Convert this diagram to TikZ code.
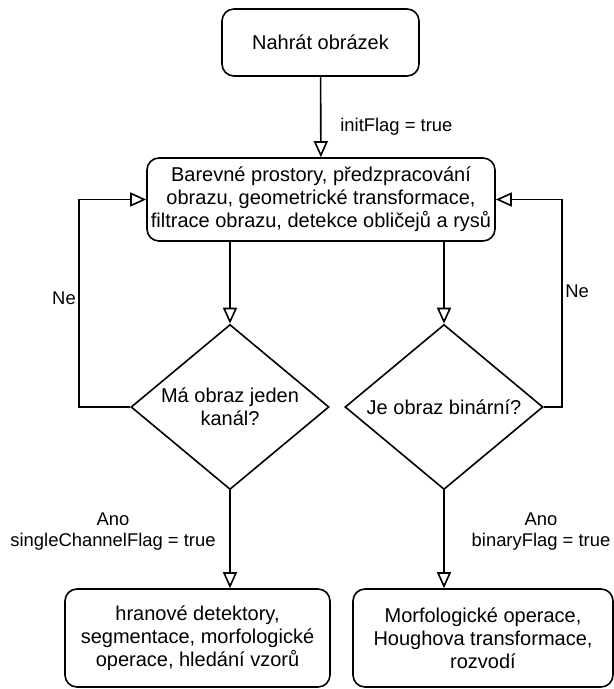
\documentclass[tikz,border=0pt]{standalone}
\usepackage{fontspec}
\setmainfont{Liberation Sans}
\usetikzlibrary{shapes.geometric, arrows.meta, positioning}

\begin{document}
\begin{tikzpicture}[x=0.5pt, y=-0.5pt,
    box/.style={draw, rounded corners=6pt, align=center, inner sep=0pt,
                font=\fontsize{10}{11.6}\selectfont, line width=0.8pt},
    decision/.style={draw, diamond, aspect=1.2, inner sep=0pt, align=center,
                minimum width=99pt, minimum height=82.5pt,
                font=\fontsize{10}{11.6}\selectfont, line width=0.8pt},
    arr/.style={-{Triangle[open, length=8pt, width=7pt]}, line width=0.8pt},
    lbl/.style={inner sep=0pt, align=center, font=\fontsize{9.2}{10.5}\selectfont}]
    \useasboundingbox (0,0) rectangle (614,689);
    % nodes
    \node[box, minimum width=98.5pt, minimum height=33.5pt] (load) at (320.5,42.5) {Nahrát obrázek};
    \node[box, minimum width=174pt, minimum height=41.5pt] (proc) at (321,199.5)
        {Barevné prostory, předzpracování\\obrazu, geometrické transformace,\\filtrace obrazu, detekce obličejů a rysů};
    \node[decision] (chan) at (230,407) {Má obraz jeden\\kanál?};
    \node[decision] (bin) at (444,407) {Je obraz binární?};
    \node[box, minimum width=132.5pt, minimum height=49pt] (edges) at (197.5,638)
        {hranové detektory,\\segmentace, morfologické\\operace, hledání vzorů};
    \node[box, minimum width=130pt, minimum height=49pt] (morph) at (483,638)
        {Morfologické operace,\\Houghova transformace,\\rozvodí};
    % labels
    \node[lbl, anchor=west] (initlbl) at (340,127) {initFlag = true};
    \node[lbl] (nolft) at (64,298) {Ne};
    \node[lbl] (norgt) at (577,291) {Ne};
    \node[lbl] (yeslft) at (113,532) {Ano\\singleChannelFlag = true};
    \node[lbl] (yesrgt) at (541,532) {Ano\\binaryFlag = true};
    % connectors
    \draw[arr] (load) -- (proc);
    \draw[arr] (proc.south -| chan.north) -- (chan.north);
    \draw[arr] (proc.south -| bin.north) -- (bin.north);
    \draw[arr] (chan.west) -- ++(-51,0) |- (proc.west);
    \draw[arr] (bin.east) -- ++(18,0) |- (proc.east);
    \draw[arr] (chan.south) -- (chan.south |- edges.north);
    \draw[arr] (bin.south) -- (bin.south |- morph.north);
  \end{tikzpicture}
\end{document}
